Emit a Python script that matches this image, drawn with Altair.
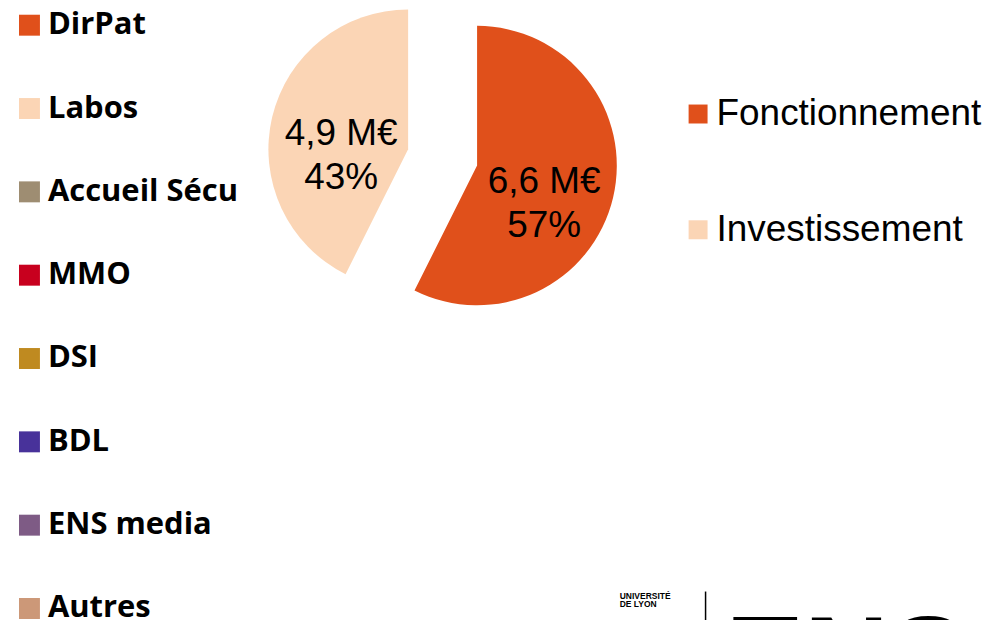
import math
import altair as alt

# ---- data ----
categories = ["Fonctionnement", "Investissement"]
amounts = [6.6, 4.9]               # M€
percents = [57, 43]
amount_labels = ["6,6 M€", "4,9 M€"]
slice_colors = ["#E0501B", "#FBD5B5"]

other_categories = ["DirPat", "Labos", "Accueil Sécu", "MMO", "DSI", "BDL", "ENS media", "Autres"]
other_colors = ["#E0501B", "#FBD5B5", "#9E8D72", "#C8001E", "#BF8A20", "#48329A", "#7E5B85", "#CC9878"]

logo_lines = ["UNIVERSITÉ", "DE LYON"]
logo_big = "ENS"

# ---- derived table ----
EXPLODE = 35.5
total = sum(amounts)
rows = []
cum = 0.0
for c, a, p, l in zip(categories, amounts, percents, amount_labels):
    start, end = cum, cum + a
    mid = (start + end) / 2
    ang = mid / total * 2 * math.pi
    rows.append(dict(category=c, amount=a, start=start, end=end, mid=mid,
                     label=f"{l}\n{p}%",
                     dx=EXPLODE * math.sin(ang), dy=-EXPLODE * math.cos(ang)))
    cum = end

data = alt.Data(values=rows)
theta_scale = alt.Scale(domain=[0, total], range=[0, 2 * math.pi])
color_scale = alt.Scale(domain=categories, range=slice_colors)

right_legend = alt.Legend(
    orient="none", legendX=673, legendY=86, direction="vertical", title=None,
    symbolType="square", symbolSize=361, symbolStrokeWidth=0, symbolOpacity=1,
    labelFont="Liberation Sans", labelFontSize=37, labelColor="black",
    labelOffset=0, rowPadding=78, padding=0, labelLimit=400,
)

arcs, texts = [], []
for r in rows:
    base = alt.Chart(data).transform_filter(alt.datum.category == r["category"])
    arcs.append(
        base.mark_arc(radius=140, xOffset=r["dx"], yOffset=r["dy"]).encode(
            theta=alt.Theta("start:Q", scale=theta_scale, stack=None),
            theta2="end:Q",
            color=alt.Color("category:N", scale=color_scale, legend=right_legend),
        )
    )
    texts.append(
        base.mark_text(radius=69, xOffset=r["dx"], yOffset=r["dy"] + 1,
                       font="Liberation Sans", fontSize=37, color="black",
                       lineBreak="\n", align="center", baseline="middle",
                       lineHeight=44).encode(
            theta=alt.Theta("mid:Q", scale=theta_scale, stack=None),
            text="label:N",
        )
    )

pie = alt.layer(*arcs, *texts)

legend_layer = alt.Chart(alt.Data(values=[{"unit": u} for u in other_categories])).mark_square(
    opacity=0
).encode(
    color=alt.Color(
        "unit:N",
        scale=alt.Scale(domain=other_categories, range=other_colors),
        legend=alt.Legend(
            orient="none", legendX=6, legendY=0, direction="vertical", title=None,
            symbolType="square", symbolSize=441, symbolStrokeWidth=0, symbolOpacity=1,
            labelFont="Open Sans", labelFontWeight="bold", labelFontSize=31,
            labelColor="black", labelOffset=3, rowPadding=51.5, padding=0, labelLimit=400,
        ),
    )
)

logo_text = alt.Chart(alt.Data(values=[{"t": "\n".join(logo_lines)}])).mark_text(
    font="Liberation Sans", fontWeight="bold", fontSize=8.5, color="black",
    align="left", baseline="top", lineBreak="\n", lineHeight=9,
).encode(text="t:N", x=alt.value(613), y=alt.value(583))

logo_rule = alt.Chart(alt.Data(values=[{"k": 1}])).mark_rule(color="black", strokeWidth=1.5).encode(
    x=alt.value(699), y=alt.value(583), y2=alt.value(615)
)

logo_ens = alt.Chart(alt.Data(values=[{"t": logo_big}])).mark_text(
    font="Liberation Sans", fontWeight="bold", fontSize=118, color="black",
    align="left", baseline="alphabetic",
).encode(text="t:N", x=alt.value(719), y=alt.value(690))

chart = (
    alt.layer(pie, legend_layer, logo_text, logo_rule, logo_ens)
    .resolve_scale(color="independent")
    .properties(width=871, height=296, padding=0)
    .configure_view(stroke=None)
)

chart.save("out.html", embed_options={"renderer": "svg", "actions": False})
